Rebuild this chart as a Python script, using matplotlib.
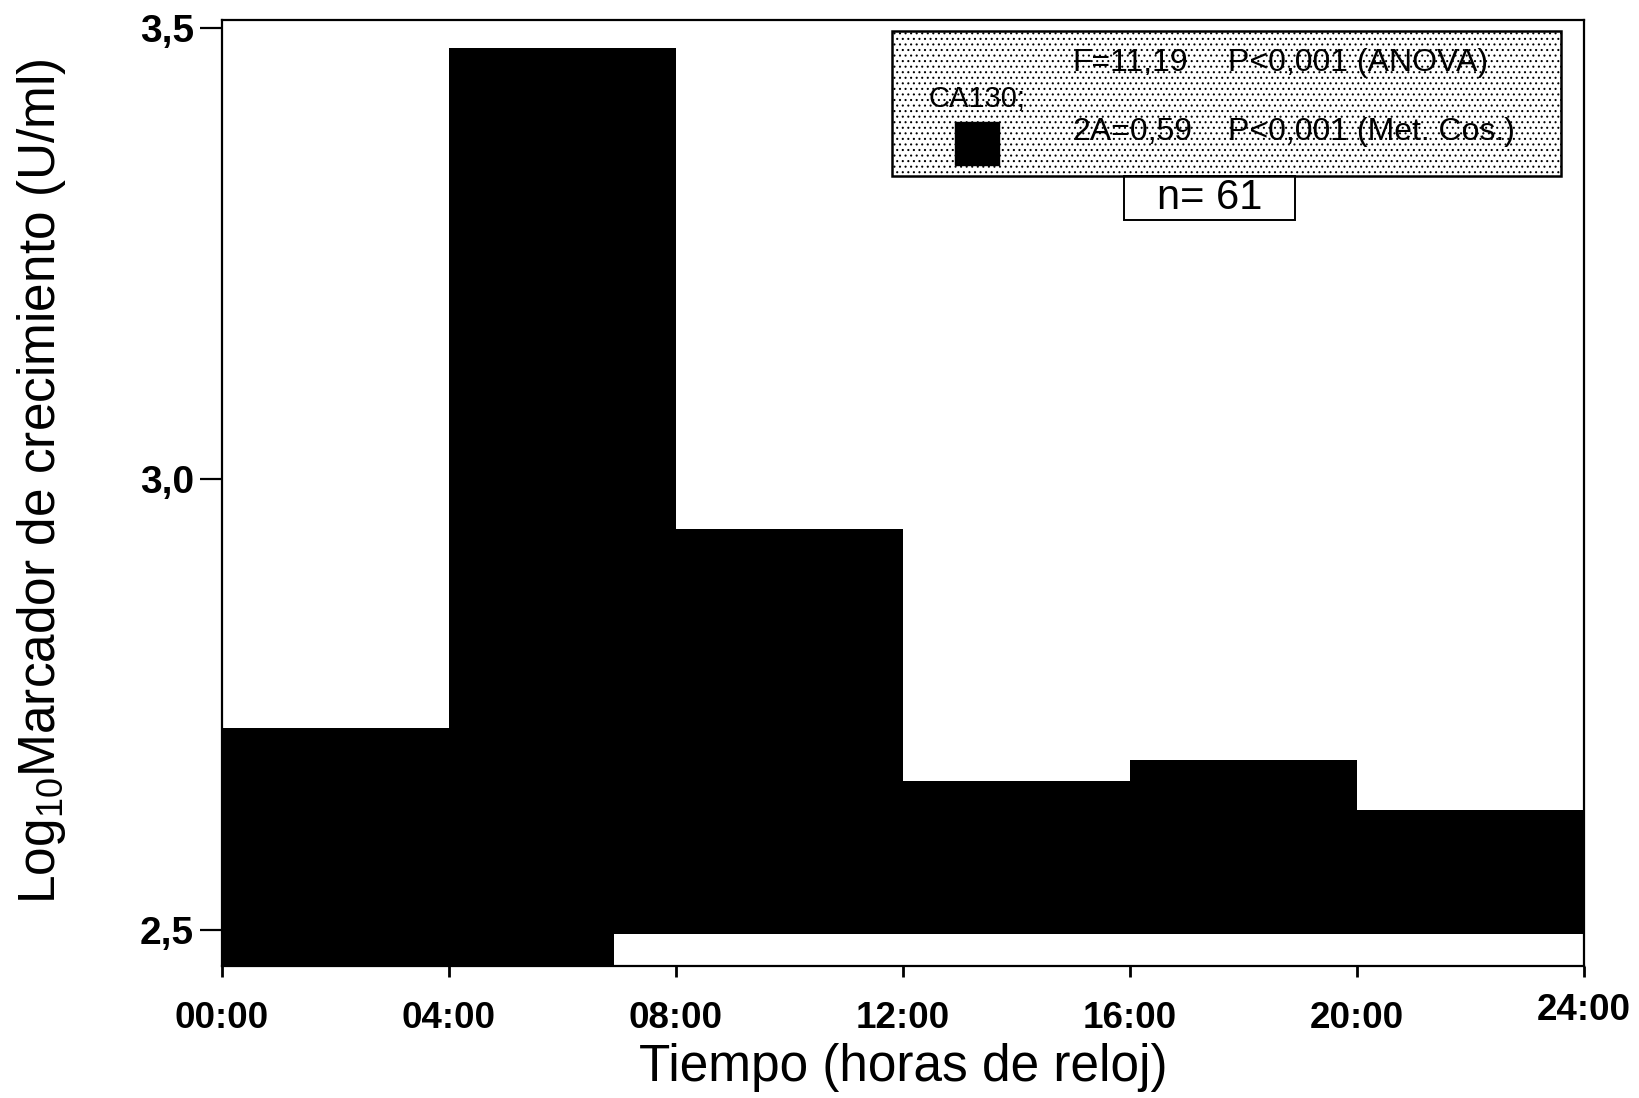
import matplotlib
matplotlib.use("Agg")
import matplotlib.pyplot as plt
from matplotlib.patches import Rectangle
import matplotlib.transforms as mtransforms

# Mean log10 marker level per 4-hour clock bin
bin_start_hours = [0, 4, 8, 12, 16, 20]
log_values = [2.724, 3.478, 2.945, 2.665, 2.688, 2.633]
bin_width = 4
bar_baseline = 2.495
y_floor = 2.46
y_ceiling = 3.509
low_band_end = 6.9

x_ticks = [0, 4, 8, 12, 16, 20, 24]
x_labels = ["00:00", "04:00", "08:00", "12:00", "16:00", "20:00", "24:00"]
y_ticks = [2.5, 3.0, 3.5]
y_labels = ["2,5", "3,0", "3,5"]

series_name = "CA130;"
stat_rows = [("F=11,19", "P<0,001 (ANOVA)"), ("2A=0,59", "P<0,001 (Met. Cos.)")]
n_text = "n= 61"

plt.rcParams["font.family"] = ["Liberation Sans", "DejaVu Sans"]
plt.rcParams["mathtext.default"] = "regular"
plt.rcParams["hatch.linewidth"] = 0.75

W, H = 1640, 1098
fig = plt.figure(figsize=(W / 100, H / 100), dpi=100)
ax = fig.add_axes([222 / W, 1 - 966 / H, (1584 - 222) / W, (966 - 20) / H])

heights = [v - bar_baseline for v in log_values]
ax.bar(bin_start_hours, heights, width=bin_width, bottom=bar_baseline,
       align="edge", color="black", linewidth=0)
# dark band under the first bins down to the axis floor
ax.bar([0], [bar_baseline - y_floor], width=low_band_end, bottom=y_floor,
       align="edge", color="black", linewidth=0)

ax.set_xlim(0, 24)
ax.set_ylim(y_floor, y_ceiling)
for s in ax.spines.values():
    s.set_linewidth(1.6)

ax.set_xticks(x_ticks)
ax.set_xticklabels(x_labels, fontsize=26.5, fontweight="bold")
ax.set_yticks(y_ticks)
ax.set_yticklabels(y_labels, fontsize=28, fontweight="bold")
ax.tick_params(axis="x", direction="out", length=8, width=2, pad=17)
ax.tick_params(axis="y", direction="out", length=16, width=1.6, pad=4)

# last clock label sits a little higher
last = ax.get_xticklabels()[-1]
last.set_transform(last.get_transform() +
                   mtransforms.ScaledTranslation(0, 8 / 100, fig.dpi_scale_trans))

fig.text((222 + 1584) / 2 / W, 1 - 1067 / H, "Tiempo (horas de reloj)",
         fontsize=37, ha="center", va="center")
fig.text(42 / W, 1 - 481 / H, "$Log_{10}$Marcador de crecimiento (U/ml)",
         rotation=90, fontsize=37, ha="center", va="center")

# statistics box
box_xy = (892 / W, 1 - 176 / H)
box_w, box_h = (1561 - 892) / W, (176 - 31) / H
fig.add_artist(Rectangle(box_xy, box_w, box_h, transform=fig.transFigure,
                         facecolor="white", edgecolor="black", linewidth=0,
                         hatch="...", zorder=5))
fig.add_artist(Rectangle(box_xy, box_w, box_h, transform=fig.transFigure,
                         facecolor="none", edgecolor="black", linewidth=1.8,
                         zorder=6))
fig.add_artist(Rectangle((955 / W, 1 - 165 / H), (999 - 955) / W, (165 - 122) / H,
                         transform=fig.transFigure, facecolor="black",
                         edgecolor="black", zorder=7))
fig.text(929 / W, 1 - 99 / H, series_name, fontsize=21,
         va="center", ha="left", zorder=8)
for (a, b), yy in zip(stat_rows, [63, 132]):
    fig.text(1072 / W, 1 - yy / H, a, fontsize=23,
             va="center", ha="left", zorder=8)
    fig.text(1228 / W, 1 - yy / H, b, fontsize=23,
             va="center", ha="left", zorder=8)

# sample size tag
fig.add_artist(Rectangle((1124 / W, 1 - 220 / H), (1295 - 1124) / W, (220 - 176) / H,
                         transform=fig.transFigure, facecolor="white",
                         edgecolor="black", linewidth=1.4, zorder=5))
fig.text(1210 / W, 1 - 198 / H, n_text, fontsize=30, ha="center", va="center", zorder=8)

fig.savefig("out.png", dpi=100)
